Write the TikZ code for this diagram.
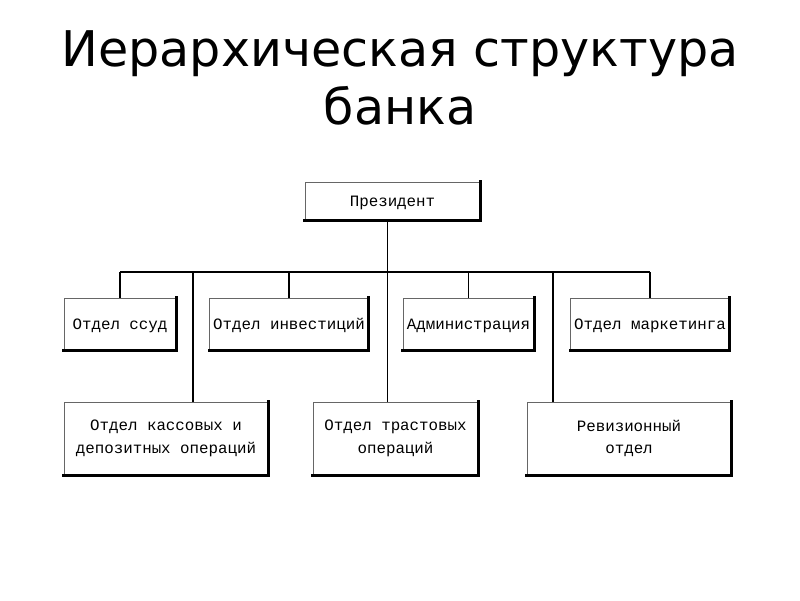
\documentclass[tikz,border=0pt]{standalone}
\usepackage{fontspec}
\setmainfont{DejaVu Sans}
\newfontfamily\boxfont{Liberation Mono}
\usetikzlibrary{calc}

\tikzset{
  dept/.style = {draw = black!60, line width = 0.5pt, inner sep = 2pt, align = center, font = \boxfont\fontsize{9}{13}\selectfont},
  dept one/.style = {dept, text height = 1.6ex, text depth = 0.4ex},
  link/.style = {line width = 1pt},
  shade edge/.style = {line width = 1.8pt, line cap = rect}
}

\begin{document}
\begin{tikzpicture}[x = 0.02cm, y = -0.02cm]
\useasboundingbox[fill = white] (0,0) rectangle (800,600);
\node[font = \fontsize{28}{33}\selectfont, align = center] (title) at (400,78) {Иерархическая структура\\банка};

\node[dept one, minimum width = 3.5cm, minimum height = 0.76cm] (pres) at (392.5,201) {Президент};

\node[dept one, minimum width = 2.24cm, minimum height = 1.04cm] (loan) at (120,324) {Отдел ссуд};
\node[dept one, minimum width = 3.12cm, minimum height = 1.04cm] (invest) at (289,324) {Отдел инвестиций};
\node[dept one, minimum width = 2.54cm, minimum height = 1.04cm] (admin) at (468.5,324) {Администрация};
\node[dept one, minimum width = 3.12cm, minimum height = 1.04cm] (mkt) at (650,324) {Отдел маркетинга};

\node[dept, minimum width = 4.08cm, minimum height = 1.46cm] (cash) at (166,438.5) {Отдел кассовых и\\депозитных операций};
\node[dept, minimum width = 3.3cm, minimum height = 1.46cm] (trust) at (395.5,438.5) {Отдел трастовых\\операций};
\node[dept, minimum width = 4.08cm, minimum height = 1.46cm] (audit) at (629,438.5) {Ревизионный\\отдел};

% heavy bottom and right edges
\foreach \n in {pres, loan, invest, admin, mkt, cash, trust, audit}
  \draw[shade edge] (\n.south west) -- (\n.south east) -- (\n.north east);

% bus line and drops
\coordinate (bus) at (387,272);
\coordinate (dropA) at (193,272);
\coordinate (dropC) at (553,272);
\draw[link] (bus -| pres.south) ++(-5,0) coordinate (top) (pres.south -| top) -- (top |- trust.north);
\draw[link] (loan.north |- bus) -- (mkt.north |- bus);
\foreach \n in {loan, invest, admin, mkt}
  \draw[link] (\n.north) -- (\n.north |- bus);
\draw[link] (dropA) -- (dropA |- cash.north);
\draw[link] (dropC) -- (dropC |- audit.north);
\end{tikzpicture}
\end{document}
